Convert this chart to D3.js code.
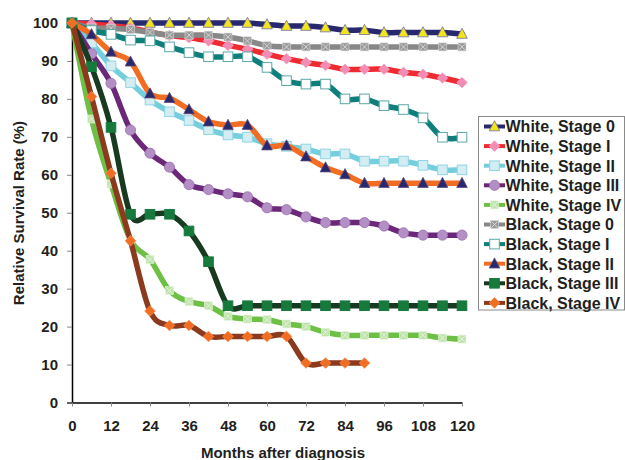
<!DOCTYPE html>
<html><head><meta charset="utf-8">
<script src="https://cdn.jsdelivr.net/npm/d3@7"></script>
<style>
body{margin:0;background:#fff;}
svg{display:block;}
text{font-family:"Liberation Sans",Arial,sans-serif;font-weight:bold;fill:#231f20;}
</style></head>
<body>
<svg id="chart" width="625" height="460"></svg>
<script>
const months = [0,6,12,18,24,30,36,42,48,54,60,66,72,78,84,90,96,102,108,114,120];
const xTicks = [0,12,24,36,48,60,72,84,96,108,120];
const yTicks = [0,10,20,30,40,50,60,70,80,90,100];
const seriesNames = ["White, Stage 0","White, Stage I","White, Stage II","White, Stage III","White, Stage IV","Black, Stage 0","Black, Stage I","Black, Stage II","Black, Stage III","Black, Stage IV"];
const whiteStage0 = [100,100,100,100,100,100,100,100,100,100,99.6,99.2,99.2,98.8,98.1,98.1,97.5,97.5,97.5,97.5,97.1];
const whiteStage1 = [100,99.7,99.3,98.7,97.6,96.7,96.1,95.3,94.1,93.1,91.8,90.6,89.6,88.8,87.8,87.8,87.8,87.0,86.5,85.5,84.3];
const whiteStage2 = [100,94.8,88.7,84.3,79.7,76.6,74.3,71.9,70.5,69.9,68.2,67.5,66.8,65.5,65.5,63.6,63.6,63.6,62.5,61.3,61.3];
const whiteStage3 = [100,91.9,84.1,71.8,65.7,62.0,57.4,56.1,55.0,54.2,51.3,50.8,48.9,47.4,47.4,47.4,46.5,44.7,44.1,44.1,44.1];
const whiteStage4 = [100,74.7,57.6,42.8,37.7,29.5,26.6,25.5,22.7,22.0,21.8,20.7,20.0,18.5,17.7,17.7,17.7,17.7,17.7,17.0,16.7];
const blackStage0 = [100,98.7,98.6,98.3,97.5,96.8,96.8,96.8,96.3,95.3,94.0,93.7,93.7,93.7,93.7,93.7,93.7,93.7,93.7,93.7,93.7];
const blackStage1 = [100,98.0,97.0,95.5,95.3,93.7,92.2,91.1,91.1,91.1,88.3,84.8,83.9,83.9,80.0,80.0,78.2,77.2,75.0,69.9,69.9];
const blackStage2 = [100,97.0,92.4,89.8,81.4,80.2,77.2,74.0,73.1,73.1,67.7,67.7,64.8,61.9,60.1,57.8,57.8,57.8,57.8,57.8,57.8];
const blackStage3 = [100,88.5,72.5,49.6,49.6,49.6,45.2,37.1,25.5,25.5,25.5,25.5,25.5,25.5,25.5,25.5,25.5,25.5,25.5,25.5,25.5];
const blackStage4 = [100,80.6,60.4,42.6,24.1,20.3,20.3,17.4,17.4,17.4,17.4,17.4,10.4,10.4,10.4,10.4];

const seriesValues = [whiteStage0,whiteStage1,whiteStage2,whiteStage3,whiteStage4,blackStage0,blackStage1,blackStage2,blackStage3,blackStage4];

const styles = [
  {line:"#27286e", marker:"triangle", fill:"#f2e51c", stroke:"#6f6f9a"},
  {line:"#ee2b31", marker:"diamond", fill:"#f28cb5", stroke:"#f5a3c2"},
  {line:"#74cedd", marker:"square", fill:"#d4edf3", stroke:"#8fd5e3"},
  {line:"#6c2878", marker:"circle", fill:"#b38fc6", stroke:"#9a70b0"},
  {line:"#6dbf45", marker:"xsquare", fill:"#bfe3aa", stroke:"#e8f5e0"},
  {line:"#888888", marker:"xsquare", fill:"#9b9b9b", stroke:"#d9d9d9"},
  {line:"#0e7f7a", marker:"square", fill:"#ffffff", stroke:"#5aa8a6"},
  {line:"#f26c22", marker:"triangle", fill:"#27286e", stroke:"#5a4a7a"},
  {line:"#183a20", marker:"square", fill:"#177a3d", stroke:"#177a3d"},
  {line:"#8c3a1e", marker:"diamond", fill:"#f26c22", stroke:"#f58a4c"}
];

const svg = d3.select("#chart");
const x = d3.scaleLinear().domain([0,120]).range([72,462]);
const y = d3.scaleLinear().domain([0,100]).range([402.5,23]);

// Y axis
const yAxis = svg.append("g").attr("transform","translate(72,0)")
  .call(d3.axisLeft(y).tickValues(yTicks).tickSize(5).tickPadding(9));
yAxis.select(".domain").attr("stroke","#000").attr("stroke-width",1.5);
yAxis.selectAll(".tick line").attr("stroke","#888");
yAxis.selectAll(".tick text").attr("font-size",15).style("font-family","Liberation Sans, Arial, sans-serif").style("font-weight","bold").attr("fill","#231f20");

// X axis
const xAxis = svg.append("g").attr("transform","translate(0,402.5)")
  .call(d3.axisBottom(x).tickValues(xTicks).tickSize(4).tickSizeOuter(0).tickPadding(14));
xAxis.select(".domain").attr("stroke","#000").attr("stroke-width",1.5);
xAxis.selectAll(".tick line").attr("stroke","#888");
xAxis.selectAll(".tick text").attr("font-size",15).style("font-family","Liberation Sans, Arial, sans-serif").style("font-weight","bold").attr("fill","#231f20");

svg.append("text").attr("x",283).attr("y",458).attr("text-anchor","middle").attr("font-size",15).text("Months after diagnosis");
svg.append("text").attr("transform","translate(24,213) rotate(-90)").attr("text-anchor","middle").attr("font-size",15).text("Relative Survival Rate (%)");

const line = d3.line().x(d=>x(d[0])).y(d=>y(d[1])).curve(d3.curveCatmullRom.alpha(0));

function drawMarker(g, type, cx, cy, st){
  const s = 4.8;
  if(type==="triangle"){
    g.append("path").attr("d",`M${cx},${cy-s-1}L${cx+s+0.5},${cy+s-0.5}L${cx-s-0.5},${cy+s-0.5}Z`)
      .attr("fill",st.fill).attr("stroke",st.stroke).attr("stroke-width",0.8);
  } else if(type==="diamond"){
    g.append("path").attr("d",`M${cx},${cy-s-0.5}L${cx+s+0.5},${cy}L${cx},${cy+s+0.5}L${cx-s-0.5},${cy}Z`)
      .attr("fill",st.fill).attr("stroke",st.stroke).attr("stroke-width",0.8);
  } else if(type==="square"){
    g.append("rect").attr("x",cx-s).attr("y",cy-s).attr("width",2*s).attr("height",2*s)
      .attr("fill",st.fill).attr("stroke",st.stroke).attr("stroke-width",1);
  } else if(type==="circle"){
    g.append("circle").attr("cx",cx).attr("cy",cy).attr("r",s+0.3)
      .attr("fill",st.fill).attr("stroke",st.stroke).attr("stroke-width",0.8);
  } else if(type==="xsquare"){
    const q=4;
    g.append("rect").attr("x",cx-q).attr("y",cy-q).attr("width",2*q).attr("height",2*q)
      .attr("fill",st.fill).attr("stroke",st.stroke).attr("stroke-width",0.6);
    g.append("path").attr("d",`M${cx-q+1},${cy-q+1}L${cx+q-1},${cy+q-1}M${cx+q-1},${cy-q+1}L${cx-q+1},${cy+q-1}`)
      .attr("stroke",st.stroke).attr("stroke-width",0.9).attr("fill","none");
  }
}

const plot = svg.append("g");
seriesValues.forEach((vals,i)=>{
  const st = styles[i];
  const pts = vals.map((v,j)=>[months[j],v]);
  const g = plot.append("g");
  g.append("path").attr("d",line(pts)).attr("fill","none").attr("stroke",st.line)
    .attr("stroke-width",5.5).attr("stroke-linejoin","round").attr("stroke-linecap","round");
  pts.forEach(p=>drawMarker(g, st.marker, x(p[0]), y(p[1]), st));
});

// Legend
const lg = svg.append("g");
lg.append("rect").attr("x",478.5).attr("y",116.5).attr("width",146).attr("height",193.5)
  .attr("fill","#fff").attr("stroke","#8a8a8a").attr("stroke-width",1);
seriesNames.forEach((name,i)=>{
  const st = styles[i];
  const cy = 126.5 + i*19.6;
  lg.append("line").attr("x1",484).attr("x2",505).attr("y1",cy).attr("y2",cy)
    .attr("stroke",st.line).attr("stroke-width",4);
  drawMarker(lg, st.marker, 494.5, cy, st);
  lg.append("text").attr("x",505.5).attr("y",cy+5.8).attr("font-size",16).text(name);
});
</script>
</body></html>
